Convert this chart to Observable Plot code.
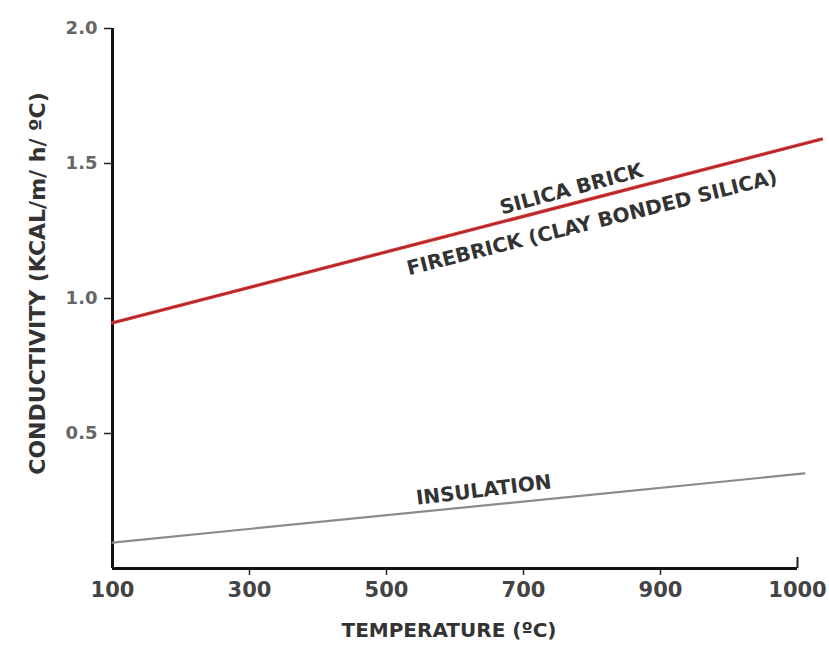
<!DOCTYPE html>
<html>
<head>
<meta charset="utf-8">
<script src="https://cdn.jsdelivr.net/npm/d3@7"></script>
<script src="https://cdn.jsdelivr.net/npm/@observablehq/plot@0.6"></script>
<style>
  html, body { margin: 0; padding: 0; background: #fff; }
  #chart svg { display: block; }
</style>
</head>
<body>
<div id="chart"></div>
<script>
// Series endpoints (temperature °C, conductivity)
const silicaT = [100, 1135];
const silicaK = [0.91, 1.59];
const insulT = [100, 1110];
const insulK = [0.096, 0.352];

// Tick values and their printed labels (the last printed "1000" sits where 1100 would be)
const xTickValues = [100, 300, 500, 700, 900, 1100];
const xTickLabels = ["100", "300", "500", "700", "900", "1000"];
const yTickValues = [0.5, 1.0, 1.5, 2.0];
const yTickLabels = ["0.5", "1.0", "1.5", "2.0"];

// Axis titles
const xTitle = "TEMPERATURE (ºC)";
const yTitle = "CONDUCTIVITY (KCAL/m/ h/ ºC)";

// In-chart annotations
const annText = ["SILICA BRICK", "FIREBRICK (CLAY BONDED SILICA)", "INSULATION"];
const annT = [770, 800, 642];
const annK = [1.405, 1.28, 0.29];
const annRotate = [-15, -14, -7];

const silica = silicaT.map((t, i) => ({t, k: silicaK[i]}));
const insul = insulT.map((t, i) => ({t, k: insulK[i]}));
const ann = annText.map((s, i) => ({s, t: annT[i], k: annK[i], r: annRotate[i]}));
const xLabel = new Map(xTickValues.map((v, i) => [v, xTickLabels[i]]));
const yLabel = new Map(yTickValues.map((v, i) => [v, yTickLabels[i]]));

const font = "DejaVu Sans";

const chart = Plot.plot({
  width: 829,
  height: 649,
  marginLeft: 112,
  marginRight: 32,
  marginTop: 28,
  marginBottom: 81,
  style: { fontFamily: font, background: "#fff", overflow: "visible" },
  x: { type: "linear", domain: [100, 1100] },
  y: { type: "linear", domain: [0, 2.0] },
  marks: [
    // y axis: ticks + labels
    Plot.axisY(yTickValues, {
      tickSize: 8, tickPadding: 7, tickFormat: d => yLabel.get(d),
      fontSize: 18, fontWeight: "bold", fill: "#666", stroke: "#222", strokeWidth: 1.5,
      label: null
    }),
    // x axis tick marks (down), end hook (up), labels
    Plot.axisX([300, 500, 700, 900], {
      tickSize: 7, tickFormat: () => "", stroke: "#222", strokeWidth: 1.5, label: null
    }),
    Plot.axisX([1100], {
      tickSize: -11, tickFormat: () => "", stroke: "#222", strokeWidth: 2, label: null
    }),
    Plot.axisX(xTickValues, {
      tickSize: 0, tickPadding: 14, tickFormat: d => xLabel.get(d),
      fontSize: 21, fontWeight: "bold", fill: "#444", label: null
    }),
    // axis titles
    Plot.text([xTitle], {
      frameAnchor: "bottom", dy: 68, dx: -6, text: d => d, textAnchor: "middle",
      fontSize: 20, fontWeight: "bold", fill: "#333"
    }),
    Plot.text([yTitle], {
      frameAnchor: "left", dx: -75, dy: -15, rotate: -90, text: d => d, textAnchor: "middle",
      fontSize: 22, fontWeight: "bold", fill: "#333", letterSpacing: "1.5px"
    }),
    // axis lines
    Plot.ruleX([100], { y1: 0, y2: 2.0, stroke: "#111", strokeWidth: 3 }),
    Plot.ruleY([0], { x1: 100, x2: 1100, stroke: "#111", strokeWidth: 3 }),
    // series
    Plot.line(insul, { x: "t", y: "k", stroke: "#8a8a8a", strokeWidth: 2.2 }),
    Plot.line(silica, { x: "t", y: "k", stroke: "#dd3333", strokeWidth: 3.4 }),
    Plot.line(silica, { x: "t", y: "k", stroke: "#8a2a2c", strokeWidth: 1 }),
    // annotations
    Plot.text(ann, {
      x: "t", y: "k", text: "s", rotate: "r",
      fontSize: 20, fontWeight: "bold", fill: "#333", textAnchor: "middle",
      letterSpacing: "1px"
    })
  ]
});

document.getElementById("chart").appendChild(chart);
</script>
</body>
</html>
